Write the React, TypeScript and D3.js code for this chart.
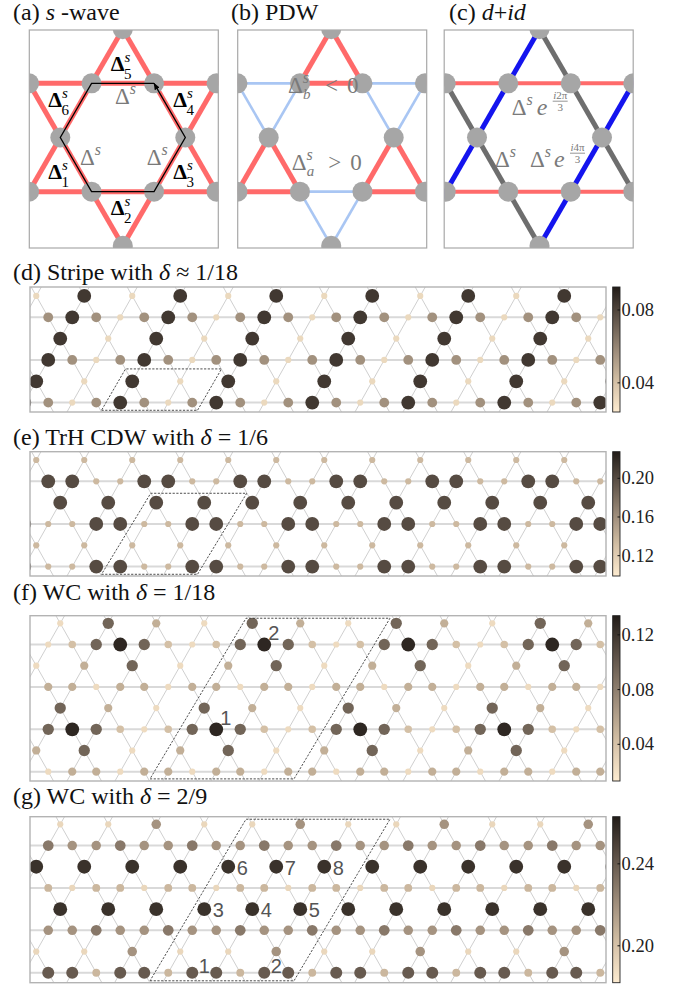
import React from "react";
import * as d3 from "d3";

const SERIF = "'Liberation Serif','Times New Roman',serif";
const SANS = "'Liberation Sans',Arial,sans-serif";
const SQ3 = Math.sqrt(3);

// ---------------- colormap (low density -> high density) ----------------
const cmapStops = [0, 0.25, 0.5, 0.75, 1];
const cmapColors = ["#fdebd0", "#d2bea4", "#9b8a78", "#5f5349", "#221c18"];

// ---------------- (d) Stripe, delta ~ 1/18 ----------------
// rows from bottom (h = 0) to top; even h: horizontal chain (u = 0..24),
// odd h: in-between sites (u = 0.5 + 2m or 1.5 + 2m)
const stripeLevels: Record<string, number> = { D: 0.084, M: 0.056, L: 0.031 };
const stripeRows = [
  "DMLMDMLMDMLMDMLMDMLMDMLMD",
  "DLDLDLDLDLDLD",
  "MDMLMDMLMDMLMDMLMDMLMDMLM",
  "DLDLDLDLDLDL",
  "LMDMLMDMLMDMLMDMLMDMLMDML",
  "LDLDLDLDLDLDL",
];
const stripeColorRange = [0.024, 0.0926];
const stripeTicks = [0.04, 0.08];
const stripeCell = { bl: 3.22, br: 7.22, tl: 4.22, tr: 8.22, hb: -0.36, ht: 1.58 };

// ---------------- (e) TrH CDW, delta = 1/6 ----------------
const trhLevels: Record<string, number> = { D: 0.2, L: 0.134 };
const trhRows = [
  "DLLDDLLDDLLDDLLDDLLDDLLDD",
  "LLLLLLLLLLLLL",
  "DLLDDLLDDLLDDLLDDLLDDLLDD",
  "DDDDDDDDDDDD",
  "LDDLLDDLLDDLLDDLLDDLLDDLL",
  "LLLLLLLLLLLLL",
];
const trhColorRange = [0.099, 0.2275];
const trhTicks = [0.12, 0.16, 0.2];
const trhCell = { bl: 3.22, br: 7.22, tl: 5.27, tr: 9.27, hb: -0.36, ht: 3.44 };

// ---------------- (f) WC, delta = 1/18 ----------------
const wc1Levels: Record<string, number> = { A: 0.128, B: 0.094, D: 0.052, E: 0.042, F: 0.024 };
const wc1Rows = [
  "DFDDFDDFDDFDDFDDFDDFDDFDD",
  "DBFDBFDBFDBFD",
  "EBABEFEBABEFEBABEFEBABEFE",
  "BDFBDFBDFBDF",
  "FDDFDDFDDFDDFDDFDDFDDFDDF",
  "FDBFDBFDBFDBF",
  "EFEBABEFEBABEFEBABEFEBABE",
  "FBDFBDFBDFBD",
];
const wc1ColorRange = [0.0132, 0.134];
const wc1Ticks = [0.04, 0.08, 0.12];
const wc1Cell = { bl: 5.24, br: 11.24, tl: 9.24, tr: 15.24, hb: -0.34, ht: 7.24 };
const wc1Labels = [
  { text: "1", u: 8, h: 2, pos: "ne" },
  { text: "2", u: 10, h: 6, pos: "ne" },
];

// ---------------- (g) WC, delta = 2/9 ----------------
const wc2Levels: Record<string, number> = { A: 0.255, B: 0.24, C: 0.229, D: 0.219, E: 0.205, F: 0.191 };
const wc2Rows = [
  "EBBEBBEBBEBBEBBEBBEBBEBBE",
  "FFDFFDFFDFFDF",
  "CDDCDDCDDCDDCDDCDDCDDCDDC",
  "AAAAAAAAAAAA",
  "EEFEEFEEFEEFEEFEEFEEFEEFE",
  "AAAAAAAAAAAAA",
  "DCDDCDDCDDCDDCDDCDDCDDCDD",
  "FFDFFDFFDFFD",
];
const wc2ColorRange = [0.182, 0.263];
const wc2Ticks = [0.2, 0.24];
const wc2Cell = { bl: 5.24, br: 11.24, tl: 9.24, tr: 15.24, hb: -0.38, ht: 7.24 };
const wc2Labels = [
  { text: "1", u: 7, h: 0, pos: "ne2" },
  { text: "2", u: 10, h: 0, pos: "ne2" },
  { text: "3", u: 7.5, h: 3, pos: "e" },
  { text: "4", u: 9.5, h: 3, pos: "e" },
  { text: "5", u: 11.5, h: 3, pos: "e" },
  { text: "6", u: 8.5, h: 5, pos: "e" },
  { text: "7", u: 10.5, h: 5, pos: "e" },
  { text: "8", u: 12.5, h: 5, pos: "e" },
];

// ---------------- top panels ----------------
const sWaveBondLabels = [
  { n: "1", u: -1, h: -2 / 3 },
  { n: "2", u: 0, h: -4 / 3 },
  { n: "3", u: 1, h: -2 / 3 },
  { n: "4", u: 1, h: 2 / 3 },
  { n: "5", u: 0, h: 4 / 3 },
  { n: "6", u: -1, h: 2 / 3 },
];

const cmap = d3
  .scaleLinear<string>()
  .domain(cmapStops)
  .range(cmapColors)
  .interpolate(d3.interpolateRgb)
  .clamp(true);

const labelOffsets: Record<string, [number, number]> = {
  ne: [9.5, -11.5],
  ne2: [12, -7],
  e: [14, 1],
};

function BottomPanel(props: any) {
  const { id, title, titleY, top, height, hDomain, rows, levels, colorRange, ticks, cell, labels } = props;
  const left = 30;
  const right = 606;
  const x = d3.scaleLinear().domain([0.24, 24.24]).range([left, right]);
  const y = d3.scaleLinear().domain(hDomain).range([top + height, top]);
  const cnorm = d3.scaleLinear().domain(colorRange).range([0, 1]).clamp(true);
  const vals = Object.values(levels) as number[];
  const r = d3.scaleLinear().domain([Math.min(...vals), Math.max(...vals)]).range([3.1, 6.9]);
  const nRows = rows.length;
  const sites = (rows as string[]).flatMap((row, h) =>
    row.split("").map((ch, i) => {
      const u = h % 2 === 0 ? i : ((h - 1) / 2) % 2 === 0 ? 0.5 + 2 * i : 1.5 + 2 * i;
      return { u, h, v: levels[ch] as number };
    })
  );
  const hLo = -2;
  const hHi = nRows + 1;
  const diag: { x1: number; y1: number; x2: number; y2: number }[] = [];
  for (let c = -20; c <= 30; c += 2)
    diag.push({ x1: x(c + 0.5 * hLo), y1: y(hLo), x2: x(c + 0.5 * hHi), y2: y(hHi) });
  for (let c = -5; c <= 45; c += 2)
    diag.push({ x1: x(c - 0.5 * hLo), y1: y(hLo), x2: x(c - 0.5 * hHi), y2: y(hHi) });
  const horiz = d3.range(0, nRows, 2);
  const cb = d3.scaleLinear().domain(colorRange).range([top + height, top]);
  const cbX = 612.7;
  const cbW = 7.3;
  const para = `M${x(cell.bl)},${y(cell.hb)}L${x(cell.br)},${y(cell.hb)}L${x(cell.tr)},${y(cell.ht)}L${x(cell.tl)},${y(cell.ht)}Z`;
  return (
    <g>
      <defs>
        <clipPath id={`clip-${id}`}>
          <rect x={left} y={top} width={right - left} height={height} />
        </clipPath>
        <linearGradient id={`grad-${id}`} x1="0" y1="1" x2="0" y2="0">
          {d3.range(0, 1.0001, 0.05).map((t) => (
            <stop key={t} offset={t} stopColor={cmap(t)} />
          ))}
        </linearGradient>
      </defs>
      <text x={13} y={titleY} fontSize={24} fill="#111" style={{ fontFamily: SERIF }}>
        {title}
      </text>
      <g clipPath={`url(#clip-${id})`}>
        {diag.map((d, i) => (
          <line key={"d" + i} {...d} stroke="#c9c9c9" strokeWidth={0.9} />
        ))}
        {horiz.map((h) => (
          <line key={"h" + h} x1={left} x2={right} y1={y(h)} y2={y(h)} stroke="#d9d9d9" strokeWidth={2} />
        ))}
        {sites.map((s, i) => (
          <circle key={i} cx={x(s.u)} cy={y(s.h)} r={r(s.v)} fill={cmap(cnorm(s.v))} />
        ))}
      </g>
      <path d={para} fill="none" stroke="#3a3a3a" strokeWidth={0.9} strokeDasharray="2.2 1.5" />
      {(labels || []).map((l: any) => {
        const [dx, dy] = labelOffsets[l.pos];
        return (
          <text
            key={l.text}
            x={x(l.u) + dx}
            y={y(l.h) + dy}
            style={{ fontFamily: SANS }}
            fontSize={20}
            fill="#555"
            textAnchor="middle"
            dominantBaseline="central"
          >
            {l.text}
          </text>
        );
      })}
      <rect x={left} y={top} width={right - left} height={height} fill="none" stroke="#b3b3b3" strokeWidth={1.4} />
      <rect x={cbX} y={top} width={cbW} height={height} fill={`url(#grad-${id})`} stroke="#222" strokeWidth={0.9} />
      {ticks.map((t: number) => (
        <g key={t}>
          <line x1={cbX + cbW - 2.5} x2={cbX + cbW} y1={cb(t)} y2={cb(t)} stroke="#111" strokeWidth={1} />
          <text x={621.5} y={cb(t)} fontSize={18.5} fill="#222" dominantBaseline="central" style={{ fontFamily: SERIF }}>
            {d3.format(".2f")(t)}
          </text>
        </g>
      ))}
    </g>
  );
}

function isTopSite(u: number, h: number) {
  if (Math.abs(h) % 2 === 1) return Number.isInteger(u - 0.5);
  if (!Number.isInteger(u)) return false;
  const par = h / 2 + 1;
  return (((u - par) % 2) + 2) % 2 === 0;
}

function GrayDelta({ x, y, sub, fill = "#7a7a7a" }: any) {
  return (
    <text x={x} y={y} fontSize={23} fill={fill} style={{ fontFamily: SERIF }}>
      Δ
      <tspan fontSize={16} fontStyle="italic" dy={-10}>
        s
      </tspan>
      {sub ? (
        <tspan fontSize={15} fontStyle="italic" dx={-6} dy={16}>
          {sub}
        </tspan>
      ) : null}
    </text>
  );
}

function ExpFrac({ x, y, num }: any) {
  // e^{num/3}
  return (
    <g fill="#7a7a7a" style={{ fontFamily: SERIF }}>
      <text x={x} y={y} fontSize={24} fontStyle="italic">
        e
      </text>
      <text x={x + 23.5} y={y - 16} fontSize={11} textAnchor="middle">
        <tspan fontStyle="italic">i</tspan>
        {num}
      </text>
      <line x1={x + 16} x2={x + 31} y1={y - 13.8} y2={y - 13.8} stroke="#7a7a7a" strokeWidth={0.8} />
      <text x={x + 23.5} y={y - 4.5} fontSize={11} textAnchor="middle">
        3
      </text>
    </g>
  );
}

function TopPanel({ kind, left, cx }: any) {
  const b = 62.5;
  const hr = (b * SQ3) / 2;
  const cy = 137.5;
  const top = 30;
  const w = 189;
  const h = 218;
  const X = d3.scaleLinear().domain([0, 1]).range([cx, cx + b]);
  const Y = d3.scaleLinear().domain([0, 1]).range([cy, cy - hr]);
  const sites: { u: number; h: number }[] = [];
  for (let hh = -4; hh <= 4; hh++)
    for (let k = -10; k <= 10; k++) {
      const u = k / 2;
      if (isTopSite(u, hh)) sites.push({ u, h: hh });
    }
  type Edge = { a: { u: number; h: number }; b: { u: number; h: number }; tri: string; dir: string };
  const edges: Edge[] = [];
  sites
    .filter((s) => Math.abs(s.h) % 2 === 0)
    .forEach((s) => {
      (["up", "down"] as const).forEach((tri) => {
        const bh = tri === "up" ? s.h - 1 : s.h + 1;
        const p1 = { u: s.u - 0.5, h: bh };
        const p2 = { u: s.u + 0.5, h: bh };
        const dirOf = (a: any, c: any) =>
          a.h === c.h ? "h" : (c.u - a.u) * (c.h - a.h) > 0 ? "/" : "\\";
        edges.push({ a: s, b: p1, tri, dir: dirOf(s, p1) });
        edges.push({ a: s, b: p2, tri, dir: dirOf(s, p2) });
        edges.push({ a: p1, b: p2, tri, dir: "h" });
      });
    });
  const style = (e: Edge) => {
    if (kind === "a") return { stroke: "#ff6a6a", w: 5, z: 1 };
    if (kind === "b") return e.tri === "up" ? { stroke: "#ff6a6a", w: 5, z: 2 } : { stroke: "#a9c6f3", w: 2.6, z: 1 };
    if (e.dir === "h") return { stroke: "#ff6b6b", w: 4, z: 1 };
    if (e.dir === "/") return { stroke: "#1414ee", w: 5, z: 2 };
    return { stroke: "#6e6e6e", w: 5, z: 2 };
  };
  const styled = edges.map((e) => ({ e, s: style(e) })).sort((p, q) => p.s.z - q.s.z);
  const id = `top-${kind}`;
  const hex = [
    [0.5, 1],
    [-0.5, 1],
    [-1, 0],
    [-0.5, -1],
    [0.5, -1],
    [1, 0],
    [0.5, 1],
  ];
  const hexLine = d3
    .line<number[]>()
    .x((p) => X(p[0]))
    .y((p) => Y(p[1]));
  return (
    <g>
      <defs>
        <clipPath id={`clip-${id}`}>
          <rect x={left} y={top} width={w} height={h} />
        </clipPath>
        <marker
          id="arrowA"
          viewBox="0 0 10 10"
          refX="9"
          refY="5"
          markerWidth="7"
          markerHeight="7"
          markerUnits="userSpaceOnUse"
          orient="auto"
        >
          <path d="M0,1 L10,5 L0,9 z" fill="#000" />
        </marker>
      </defs>
      <g clipPath={`url(#clip-${id})`}>
        {styled.map(({ e, s }, i) => (
          <line
            key={i}
            x1={X(e.a.u)}
            y1={Y(e.a.h)}
            x2={X(e.b.u)}
            y2={Y(e.b.h)}
            stroke={s.stroke}
            strokeWidth={s.w}
          />
        ))}
        {sites.map((s, i) => (
          <circle key={i} cx={X(s.u)} cy={Y(s.h)} r={10} fill="#a6a6a6" />
        ))}
      </g>
      <rect x={left} y={top} width={w} height={h} fill="none" stroke="#a8a8a8" strokeWidth={1.2} />
      {kind === "a" && (
        <g>
          <path d={hexLine(hex) || ""} fill="none" stroke="#000" strokeWidth={1.3} markerEnd="url(#arrowA)" />
          {sWaveBondLabels.map((l) => (
            <text key={l.n} x={X(l.u) - 12} y={Y(l.h) + 5.5} fontSize={22} fill="#000" style={{ fontFamily: SERIF }}>
              <tspan fontWeight={700}>Δ</tspan>
              <tspan fontSize={15} fontStyle="italic" dy={-9}>
                s
              </tspan>
              <tspan fontSize={15} dx={-6.5} dy={17}>
                {l.n}
              </tspan>
            </text>
          ))}
          <GrayDelta x={cx - 7.8} y={cy - 33.5} />
          <GrayDelta x={cx - 42.8} y={cy + 27.5} />
          <GrayDelta x={cx + 23.9} y={cy + 27.5} />
        </g>
      )}
      {kind === "b" && (
        <g fill="#7a7a7a" style={{ fontFamily: SERIF }}>
          <GrayDelta x={cx - 43.2} y={cy - 44.5} sub="b" />
          <text x={cx - 43.2 + 37} y={cy - 44.5} fontSize={23}>
            {"<"}
          </text>
          <text x={cx - 43.2 + 59} y={cy - 44.5} fontSize={23}>
            0
          </text>
          <GrayDelta x={cx - 39.5} y={cy + 32.5} sub="a" />
          <text x={cx - 39.5 + 36.5} y={cy + 32.5} fontSize={23}>
            {">"}
          </text>
          <text x={cx - 39.5 + 58.5} y={cy + 32.5} fontSize={23}>
            0
          </text>
        </g>
      )}
      {kind === "c" && (
        <g>
          <GrayDelta x={cx - 27.8} y={cy - 22.5} />
          <ExpFrac x={cx - 27.8 + 25} y={cy - 22.5} num="2π" />
          <GrayDelta x={cx - 44.5} y={cy + 29.5} />
          <GrayDelta x={cx - 9.5} y={cy + 29.5} />
          <ExpFrac x={cx - 9.5 + 24} y={cy + 29.5} num="4π" />
        </g>
      )}
    </g>
  );
}

export default function App() {
  return (
    <svg
      width={690}
      height={988}
      style={{ position: "absolute", left: 0, top: 0, background: "#fff", fontFamily: SERIF }}
    >
      <rect x={0} y={0} width={690} height={988} fill="#fff" />
      <text x={13} y={20} fontSize={24} fill="#111">
        (a) <tspan fontStyle="italic">s</tspan> -wave
      </text>
      <text x={231} y={20} fontSize={24} fill="#111">
        (b) PDW
      </text>
      <text x={449} y={20} fontSize={24} fill="#111">
        (c) <tspan fontStyle="italic">d</tspan>+<tspan fontStyle="italic">id</tspan>
      </text>
      <TopPanel kind="a" left={29.3} cx={122.8} />
      <TopPanel kind="b" left={237.7} cx={331.2} />
      <TopPanel kind="c" left={444.2} cx={539.5} />

      <BottomPanel
        id="d"
        title={
          <>
            (d) Stripe with <tspan fontStyle="italic">δ</tspan> ≈ 1/18
          </>
        }
        titleY={280}
        top={287}
        height={125}
        hDomain={[-0.44, 5.42]}
        rows={stripeRows}
        levels={stripeLevels}
        colorRange={stripeColorRange}
        ticks={stripeTicks}
        cell={stripeCell}
      />
      <BottomPanel
        id="e"
        title={
          <>
            (e) TrH CDW with <tspan fontStyle="italic">δ</tspan> = 1/6
          </>
        }
        titleY={445}
        top={451.7}
        height={124.3}
        hDomain={[-0.44, 5.39]}
        rows={trhRows}
        levels={trhLevels}
        colorRange={trhColorRange}
        ticks={trhTicks}
        cell={trhCell}
      />
      <BottomPanel
        id="f"
        title={
          <>
            (f) WC with <tspan fontStyle="italic">δ</tspan> = 1/18
          </>
        }
        titleY={600}
        top={615.7}
        height={165.3}
        hDomain={[-0.44, 7.36]}
        rows={wc1Rows}
        levels={wc1Levels}
        colorRange={wc1ColorRange}
        ticks={wc1Ticks}
        cell={wc1Cell}
        labels={wc1Labels}
      />
      <BottomPanel
        id="g"
        title={
          <>
            (g) WC with <tspan fontStyle="italic">δ</tspan> = 2/9
          </>
        }
        titleY={804}
        top={816.7}
        height={166}
        hDomain={[-0.47, 7.36]}
        rows={wc2Rows}
        levels={wc2Levels}
        colorRange={wc2ColorRange}
        ticks={wc2Ticks}
        cell={wc2Cell}
        labels={wc2Labels}
      />
    </svg>
  );
}
